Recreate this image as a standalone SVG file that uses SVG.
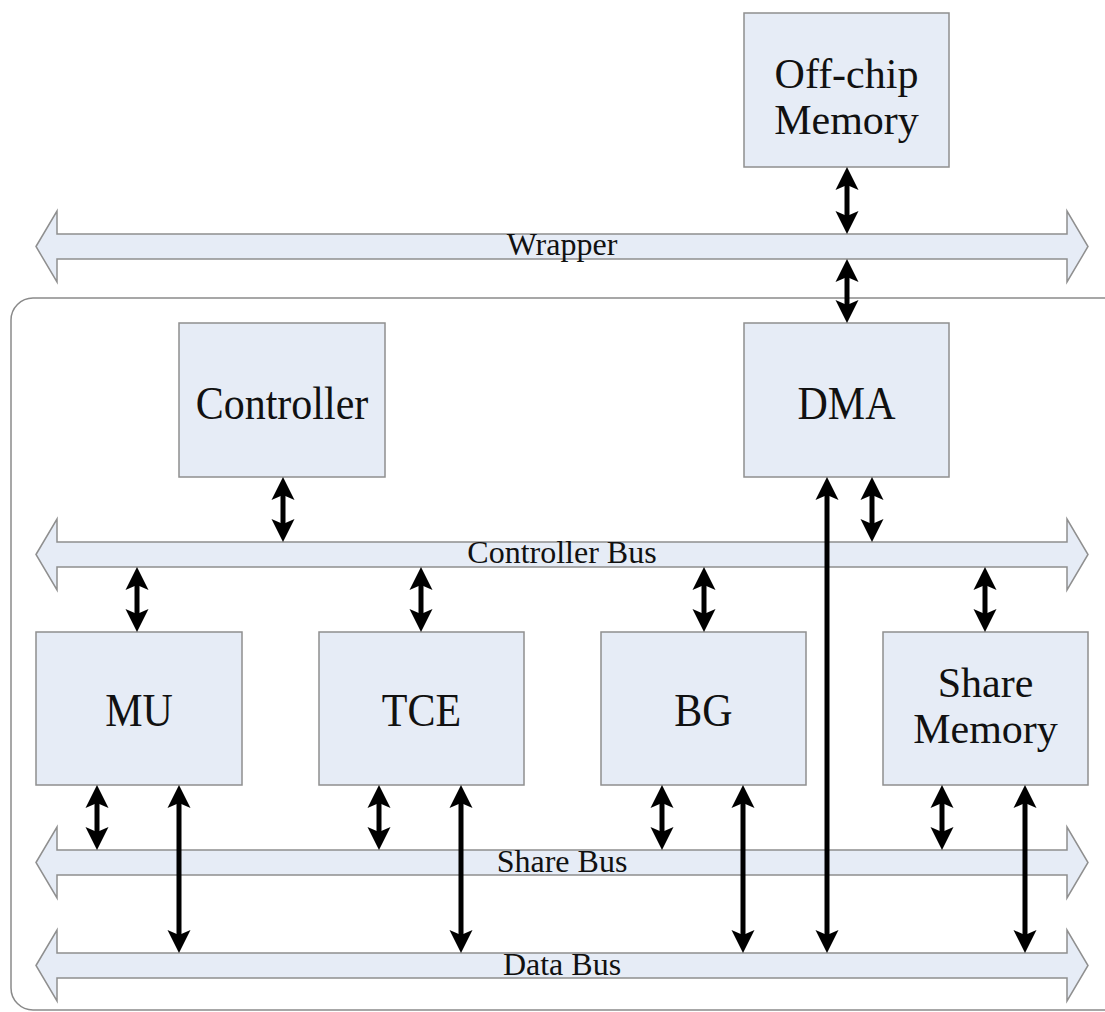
<svg xmlns="http://www.w3.org/2000/svg" width="1105" height="1012" viewBox="0 0 1105 1012">
<style>
.box{fill:#e6ecf6;stroke:#8f8f8f;stroke-width:1.5}
.bus{fill:#e6ecf6;stroke:#8f8f8f;stroke-width:1.5;stroke-linejoin:miter}
.lbl{font-family:"Liberation Serif","Times New Roman",serif;font-size:42px;fill:#111;text-anchor:middle}
.blbl{font-family:"Liberation Serif","Times New Roman",serif;font-size:32px;fill:#111;text-anchor:middle}
.arr{stroke:#000;stroke-width:5;fill:none;marker-start:url(#ah);marker-end:url(#ah)}
</style>
<defs>
<marker id="ah" markerUnits="userSpaceOnUse" markerWidth="26" markerHeight="26" viewBox="0 -13 26 26" refX="8" refY="0" orient="auto-start-reverse">
<path d="M23,0 L0,-11.5 L5,0 L0,11.5 Z" fill="#000"/>
</marker>
</defs>
<rect width="1105" height="1012" fill="#fff"/>
<g id="container"><rect x="11" y="298" width="1115" height="712" rx="22" ry="22" fill="none" stroke="#8a8a8a" stroke-width="1.5"/></g>
<g id="wrapper-bus">
<path class="bus" d="M36,246.5 L57,211 L57,234 L1067,234 L1067,211 L1088,246.5 L1067,282 L1067,259 L57,259 L57,282 Z"/>
<text class="blbl" x="562" y="255">Wrapper</text>
</g>
<g id="controller-bus">
<path class="bus" d="M36,554.5 L57,519 L57,542 L1067,542 L1067,519 L1088,554.5 L1067,590 L1067,567 L57,567 L57,590 Z"/>
<text class="blbl" x="562" y="563">Controller Bus</text>
</g>
<g id="share-bus">
<path class="bus" d="M36,862.5 L57,827 L57,850 L1067,850 L1067,827 L1088,862.5 L1067,898 L1067,875 L57,875 L57,898 Z"/>
<text class="blbl" x="562" y="872">Share Bus</text>
</g>
<g id="data-bus">
<path class="bus" d="M36,965.5 L57,930 L57,953 L1067,953 L1067,930 L1088,965.5 L1067,1001 L1067,978 L57,978 L57,1001 Z"/>
<text class="blbl" x="562" y="975">Data Bus</text>
</g>
<g id="offchip">
<rect class="box" x="744" y="13" width="205" height="154"/>
<text class="lbl" x="846.5" y="88">Off-chip</text>
<text class="lbl" x="846.5" y="134">Memory</text>
</g>
<g id="controller">
<rect class="box" x="179" y="323" width="206" height="154"/>
<text class="lbl" transform="translate(282,419) scale(1,1.1)">Controller</text>
</g>
<g id="dma">
<rect class="box" x="744" y="323" width="205" height="154"/>
<text class="lbl" transform="translate(846.5,419) scale(1,1.1)">DMA</text>
</g>
<g id="mu">
<rect class="box" x="36" y="632" width="206" height="153"/>
<text class="lbl" transform="translate(139,726) scale(1,1.1)">MU</text>
</g>
<g id="tce">
<rect class="box" x="319" y="632" width="205" height="153"/>
<text class="lbl" transform="translate(421.5,726) scale(1,1.1)">TCE</text>
</g>
<g id="bg">
<rect class="box" x="601" y="632" width="205" height="153"/>
<text class="lbl" transform="translate(703.5,726) scale(1,1.1)">BG</text>
</g>
<g id="share-memory">
<rect class="box" x="883" y="632" width="205" height="153"/>
<text class="lbl" x="985.5" y="697">Share</text>
<text class="lbl" x="985.5" y="743">Memory</text>
</g>
<g id="connectors">
<line class="arr" x1="847" y1="182" x2="847" y2="219"/>
<line class="arr" x1="847" y1="274" x2="847" y2="308"/>
<line class="arr" x1="283" y1="492" x2="283" y2="527"/>
<line class="arr" x1="872" y1="492" x2="872" y2="527"/>
<line class="arr" x1="827" y1="492" x2="827" y2="938"/>
<line class="arr" x1="137" y1="582" x2="137" y2="617"/>
<line class="arr" x1="421" y1="582" x2="421" y2="617"/>
<line class="arr" x1="704" y1="582" x2="704" y2="617"/>
<line class="arr" x1="985" y1="582" x2="985" y2="617"/>
<line class="arr" x1="97" y1="800" x2="97" y2="835"/>
<line class="arr" x1="179" y1="800" x2="179" y2="938"/>
<line class="arr" x1="379" y1="800" x2="379" y2="835"/>
<line class="arr" x1="461" y1="800" x2="461" y2="938"/>
<line class="arr" x1="662" y1="800" x2="662" y2="835"/>
<line class="arr" x1="743" y1="800" x2="743" y2="938"/>
<line class="arr" x1="942" y1="800" x2="942" y2="835"/>
<line class="arr" x1="1025" y1="800" x2="1025" y2="938"/>
</g>
</svg>
